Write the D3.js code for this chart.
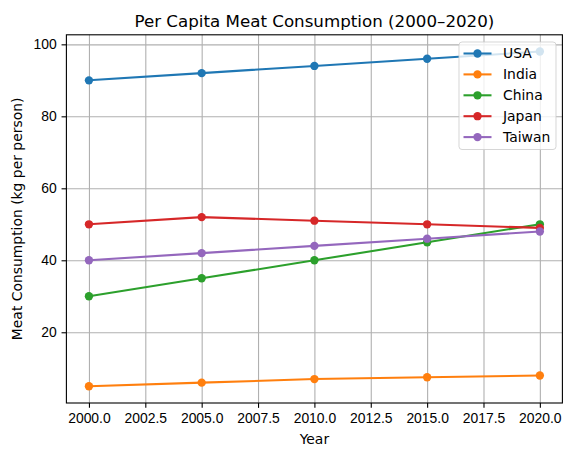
<!DOCTYPE html>
<html lang="en">
<head>
<meta charset="UTF-8">
<title>Per Capita Meat Consumption (2000–2020)</title>
<script src="https://cdnjs.cloudflare.com/ajax/libs/d3/7.8.5/d3.min.js"></script>
<style>
    body { margin: 0; background: #fff; }
    svg { display: block; font-family: "DejaVu Sans", sans-serif; }
    .axis text { font-size: 13.9px; fill: #000; }
    .axis path, .axis line { stroke: #000; stroke-width: 1.1; }
    .grid line { stroke: #b0b0b0; stroke-width: 1.1; }
    .grid path { display: none; }
</style>
</head>
<body>
<div id="chart"></div>
<script>
    // values
    const years = [2000, 2005, 2010, 2015, 2020];
    const countries = ["USA", "India", "China", "Japan", "Taiwan"];
    const usa = [90, 92, 94, 96, 98];
    const india = [5, 6, 7, 7.5, 8];
    const china = [30, 35, 40, 45, 50];
    const japan = [50, 52, 51, 50, 49];
    const taiwan = [40, 42, 44, 46, 48];
    const colors = ["#1f77b4", "#ff7f0e", "#2ca02c", "#d62728", "#9467bd"];
    const xTicks = [2000, 2002.5, 2005, 2007.5, 2010, 2012.5, 2015, 2017.5, 2020];
    const yTicks = [20, 40, 60, 80, 100];

    const series = [usa, india, china, japan, taiwan].map((vals, i) => ({
        name: countries[i],
        color: colors[i],
        points: vals.map((v, j) => ({year: years[j], value: v}))
    }));

    const W = 582, H = 458;
    const margin = {top: 34.8, right: 19.6, bottom: 55, left: 66.4};
    const width = W - margin.left - margin.right;
    const height = H - margin.top - margin.bottom;

    const svg = d3.select("#chart").append("svg")
        .attr("width", W).attr("height", H);
    const g = svg.append("g")
        .attr("transform", `translate(${margin.left},${margin.top})`);

    // matplotlib-like 5% padding
    const allVals = series.flatMap(s => s.points.map(p => p.value));
    const yMin = d3.min(allVals), yMax = d3.max(allVals);
    const yPad = (yMax - yMin) * 0.05;
    const xPad = (d3.max(years) - d3.min(years)) * 0.05;

    const x = d3.scaleLinear()
        .domain([d3.min(years) - xPad, d3.max(years) + xPad])
        .range([0, width]);
    const y = d3.scaleLinear()
        .domain([yMin - yPad, yMax + yPad])
        .range([height, 0]);

    // grid
    g.append("g").attr("class", "grid")
        .attr("transform", `translate(0,${height})`)
        .call(d3.axisBottom(x).tickValues(xTicks).tickSize(-height).tickFormat(""));
    g.append("g").attr("class", "grid")
        .call(d3.axisLeft(y).tickValues(yTicks).tickSize(-width).tickFormat(""));

    // lines + markers
    const line = d3.line().x(d => x(d.year)).y(d => y(d.value));
    series.forEach(s => {
        g.append("path")
            .datum(s.points)
            .attr("fill", "none")
            .attr("stroke", s.color)
            .attr("stroke-width", 2.08)
            .attr("d", line);
        g.selectAll(null)
            .data(s.points)
            .enter().append("circle")
            .attr("cx", d => x(d.year))
            .attr("cy", d => y(d.value))
            .attr("r", 4.17)
            .attr("fill", s.color);
    });

    // axes
    g.append("g").attr("class", "axis")
        .attr("transform", `translate(0,${height})`)
        .call(d3.axisBottom(x).tickValues(xTicks).tickSize(4.86).tickPadding(4.8)
            .tickFormat(d3.format(".1f")))
        .call(a => a.select(".domain").remove());
    g.append("g").attr("class", "axis")
        .call(d3.axisLeft(y).tickValues(yTicks).tickSize(4.86).tickPadding(4.8))
        .call(a => a.select(".domain").remove());

    // frame
    g.append("rect")
        .attr("width", width).attr("height", height)
        .attr("fill", "none").attr("stroke", "#000").attr("stroke-width", 1.1);

    // title and labels
    svg.append("text")
        .attr("x", margin.left + width / 2)
        .attr("y", margin.top - 8.3)
        .attr("text-anchor", "middle")
        .style("font-size", "16.7px")
        .text("Per Capita Meat Consumption (2000–2020)");
    svg.append("text")
        .attr("x", margin.left + width / 2)
        .attr("y", 444)
        .attr("text-anchor", "middle")
        .style("font-size", "13.9px")
        .text("Year");
    svg.append("text")
        .attr("transform", `translate(22,${margin.top + height / 2}) rotate(-90)`)
        .attr("text-anchor", "middle")
        .style("font-size", "13.9px")
        .text("Meat Consumption (kg per person)");

    // legend
    const lg = svg.append("g").attr("transform", "translate(459,42)");
    lg.append("rect")
        .attr("width", 97).attr("height", 107.5).attr("rx", 3)
        .attr("fill", "#fff").attr("fill-opacity", 0.8)
        .attr("stroke", "#ccc").attr("stroke-opacity", 0.8);
    series.forEach((s, i) => {
        const row = lg.append("g").attr("transform", `translate(0,${11.5 + i * 20.9})`);
        row.append("line")
            .attr("x1", 4.5).attr("x2", 32.5)
            .attr("stroke", s.color).attr("stroke-width", 2.08);
        row.append("circle")
            .attr("cx", 18.5).attr("r", 4.17).attr("fill", s.color);
        row.append("text")
            .attr("x", 44).attr("dy", "0.35em")
            .style("font-size", "13.9px")
            .text(s.name);
    });
</script>
</body>
</html>
